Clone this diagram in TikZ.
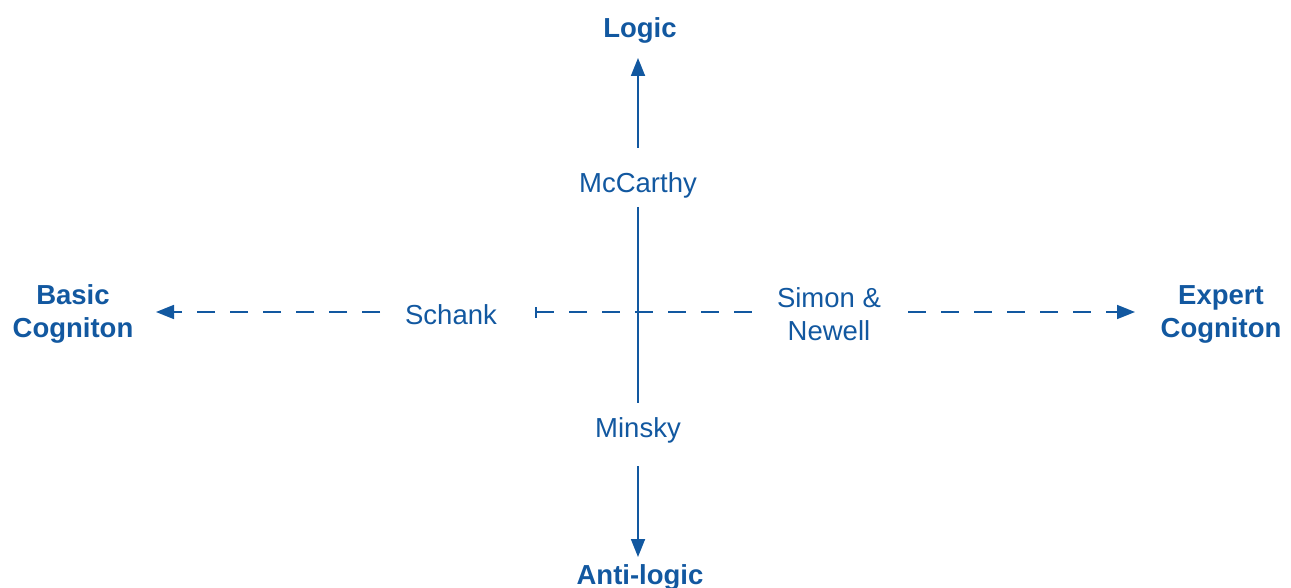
\documentclass[tikz,border=0pt]{standalone}
\usepackage{fontspec}
\setmainfont{Liberation Sans}
\usetikzlibrary{arrows.meta}
\definecolor{blu}{RGB}{18,88,160}
\begin{document}
\begin{tikzpicture}[x=1pt,y=-1pt,
  lbl/.style={text=blu,font=\fontsize{27.5}{33}\selectfont,align=center,inner sep=0pt},
  hd/.style={lbl,font=\fontsize{27.5}{33}\selectfont\bfseries},
  axis/.style={draw=blu,line width=1.8pt},
  dsh/.style={axis,dash pattern=on 18pt off 15pt},
  tip/.style={-{Triangle[length=18pt,width=14pt]}},
  bartip/.style={{Bar[width=11pt,line width=1.8pt]}-}]
\useasboundingbox (0,0) rectangle (1291,588);
\node[hd] (logic) at (640,30) {Logic};
\node[hd] (anti) at (640,577) {Anti-logic};
\node[lbl] (mcc) at (638,185) {McCarthy};
\node[lbl] (min) at (638,430) {Minsky};
\node[lbl] (sch) at (451,315) {Schank};
\node[lbl] (sim) at (829,314) {Simon \&\\Newell};
\node[hd] (basic) at (73,314) {Basic\\Cogniton};
\node[hd] (exp) at (1221,314) {Expert\\Cogniton};
\coordinate (vtop) at (638,58);
\coordinate (vt0) at (638,148);
\coordinate (vm0) at (638,207);
\coordinate (vm1) at (638,403);
\coordinate (vb0) at (638,466);
\coordinate (vbot) at (638,557);
\coordinate (hl0) at (380,312);
\coordinate (hl1) at (156,312);
\coordinate (hc0) at (535,312);
\coordinate (hc1) at (762,312);
\coordinate (hr0) at (908,312);
\coordinate (hr1) at (1135,312);
\draw[axis,tip] (vt0) -- (vtop);
\draw[axis] (vm0) -- (vm1);
\draw[axis,tip] (vb0) -- (vbot);
\draw[dsh,tip] (hl0) -- (hl1);
\draw[dsh,bartip] (hc0) -- (hc1);
\draw[dsh,bartip,tip] (hr0) -- (hr1);
\end{tikzpicture}
\end{document}
